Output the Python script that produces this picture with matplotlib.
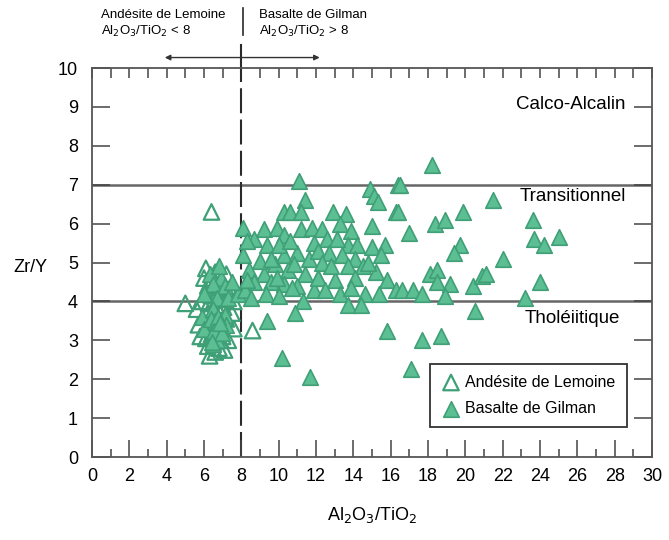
import numpy as np
import matplotlib.pyplot as plt

plt.rcParams['font.family'] = ['Liberation Sans', 'DejaVu Sans']

# Andésite de Lemoine (open triangles)
and_x = [6.4, 5.0, 8.6,
         6.0, 6.6, 6.2, 6.8, 7.4, 6.4, 7.0, 7.6, 5.9, 7.2, 6.1,
         5.6, 6.2, 6.8, 7.5, 5.7, 6.3, 6.9, 7.6, 5.8, 6.4, 7.0,
         6.2, 6.8, 6.3, 6.6, 7.1, 6.1, 7.3,
         6.25, 6.65, 7.05, 6.55,
         6.4, 6.7, 6.3, 6.9, 6.6, 7.2, 6.5, 6.8]
and_y = [6.3, 3.95, 3.25,
         4.6, 4.75, 4.4, 4.35, 4.3, 4.15, 4.05, 4.0, 4.0, 4.7, 4.85,
         3.8, 3.7, 3.75, 3.7, 3.4, 3.45, 3.35, 3.3, 3.1, 3.15, 3.1,
         2.85, 2.8, 2.6, 2.7, 2.75, 3.05, 3.0,
         3.95, 3.9, 3.85, 4.3,
         4.55, 4.25, 3.35, 3.0, 3.7, 3.55, 4.6, 4.45]

# Basalte de Gilman (filled triangles)
bas_x = [6.3, 6.9, 6.5, 7.1, 6.0, 6.7, 7.3, 7.8, 7.5, 6.8,
         5.9, 6.5, 7.1, 6.0, 6.6, 7.2, 6.7, 6.5,
         6.35, 6.75, 6.55, 6.95, 6.45, 6.85,
         11.1, 11.4, 10.3, 10.6, 11.2, 8.1, 9.2, 9.9, 8.7, 10.3, 11.2, 11.8,
         11.9, 9.4, 8.1, 10.3, 11.0, 9.8, 11.6, 8.4, 9.2, 10.5, 11.4, 12.1,
         8.7, 9.6, 10.3, 11.0, 11.9, 8.2, 9.3, 10.0, 11.3, 10.9, 9.4, 10.2,
         11.7, 8.3, 8.3, 8.5,
         14.9, 16.4, 15.1, 15.3, 12.9, 13.6, 16.3, 15.0, 12.3, 13.3, 13.9,
         12.6, 13.7, 14.2, 15.0, 15.7, 12.1, 12.7, 13.4, 14.1, 15.5, 12.3,
         13.7, 14.5, 15.2, 12.1, 13.0, 14.1, 15.8, 12.5, 13.3, 13.9, 14.6,
         15.4, 16.3, 13.7, 14.4, 15.8,
         18.2, 16.5, 16.4, 19.9, 18.4, 18.9, 17.0, 19.7, 19.4, 18.1, 18.5,
         18.5, 19.2, 20.4, 20.9, 16.6, 17.2, 17.7, 18.9, 20.5, 17.7, 18.7,
         17.1,
         21.5, 23.6, 23.7, 24.2, 22.0, 21.1, 24.0, 23.2, 25.0,
         9.0, 10.0, 10.8, 9.6, 10.6, 12.8, 13.1, 14.8, 9.9, 10.7]
bas_y = [4.7, 4.6, 4.45, 4.4, 4.2, 4.1, 4.1, 4.2, 4.5, 4.9,
         3.6, 3.8, 3.65, 3.3, 3.5, 3.4, 3.0, 2.9,
         3.55, 3.6, 3.25, 3.2, 2.95, 3.45,
         7.1, 6.6, 6.3, 6.3, 6.3, 5.9, 5.85, 5.9, 5.6, 5.7, 5.85, 5.9,
         5.5, 5.45, 5.2, 5.2, 5.25, 4.95, 5.1, 4.8, 4.7, 4.8, 4.7, 4.6,
         4.5, 4.5, 4.45, 4.4, 4.3, 4.3, 4.2, 4.15, 4.0, 3.7, 3.5, 2.55,
         2.05, 5.55, 4.55, 4.1,
         6.9, 7.0, 6.7, 6.55, 6.3, 6.25, 6.3, 5.95, 5.85, 6.0, 5.8,
         5.6, 5.45, 5.45, 5.4, 5.45, 5.3, 5.25, 5.2, 5.1, 5.2, 5.0,
         4.9, 4.9, 4.75, 4.6, 4.55, 4.6, 4.55, 4.3, 4.2, 4.35, 4.2,
         4.2, 4.3, 3.9, 3.9, 3.25,
         7.5, 7.0, 6.3, 6.3, 6.0, 6.1, 5.75, 5.45, 5.25, 4.7, 4.8,
         4.5, 4.45, 4.4, 4.65, 4.3, 4.3, 4.2, 4.15, 3.75, 3.0, 3.1,
         2.25,
         6.6, 6.1, 5.6, 5.45, 5.1, 4.7, 4.5, 4.1, 5.65,
         5.05, 5.45, 4.95, 5.1, 5.55, 4.9, 5.6, 5.0, 4.6, 4.35]

fill_c = '#5cbf94'
edge_c = '#3f9f76'

fig = plt.figure(figsize=(6.69, 5.40), dpi=100)
ax = fig.add_axes([0.1375, 0.1537, 0.8371, 0.7203])

ax.axhline(7, color='#666666', lw=1.8, zorder=1)
ax.axhline(4, color='#666666', lw=1.8, zorder=1)
ax.plot([8, 8], [0, 10], color='#2a2a2a', lw=1.5, ls=(0, (12, 3)), zorder=1)

ax.scatter(and_x, and_y, marker='^', s=125, facecolors='none',
           edgecolors=edge_c, linewidths=1.6, zorder=3, label='Andésite de Lemoine')
ax.scatter(bas_x, bas_y, marker='^', s=125, facecolors=fill_c,
           edgecolors=edge_c, linewidths=1.2, zorder=3, label='Basalte de Gilman')

ax.set_xlim(0, 30)
ax.set_ylim(0, 10)
ax.set_xticks(np.arange(0, 31, 2))
ax.set_xticks(np.arange(0, 31, 1), minor=True)
ax.set_yticks(np.arange(0, 11, 1))
ax.tick_params(axis='x', which='major', direction='in', length=12, width=1.1,
               color='#444444', labelsize=13, pad=8, top=False)
ax.tick_params(axis='x', which='minor', direction='in', length=6, width=1.1,
               color='#444444', top=False)
ax.tick_params(axis='y', which='major', direction='in', length=13, width=1.1,
               color='#444444', labelsize=13, pad=10, right=True)
top = ax.secondary_xaxis('top')
top.set_xticks(np.arange(0, 31, 1))
top.tick_params(direction='in', length=7, width=1.1, color='#444444', labeltop=False)
top.spines['top'].set_visible(False)
for s in ax.spines.values():
    s.set_color('#555555')
    s.set_linewidth(1.3)

ax.set_xlabel(r'Al$_2$O$_3$/TiO$_2$', fontsize=13, labelpad=14)
fig.text(0.045, 1 - 267 / 540, 'Zr/Y', fontsize=13, va='center', ha='center')

ax.text(28.6, 9.05, 'Calco-Alcalin', fontsize=13.5, ha='right', va='center')
ax.text(28.6, 6.7, 'Transitionnel', fontsize=13.5, ha='right', va='center')
ax.text(28.3, 3.55, 'Tholéiitique', fontsize=13.5, ha='right', va='center')

# annotations above the plot
ax.plot([8, 8], [10, 10.6], color='#2a2a2a', lw=1.5, clip_on=False)
ax.plot([8.1, 8.1], [10.85, 11.55], color='#2a2a2a', lw=1.2, clip_on=False)
ax.annotate('', xy=(3.9, 10.27), xytext=(12.2, 10.27), annotation_clip=False,
            arrowprops=dict(arrowstyle='<|-|>', color='#333333', lw=1.0,
                            mutation_scale=8, shrinkA=0, shrinkB=0))
ax.text(0.5, 11.36, 'Andésite de Lemoine', fontsize=9.5, va='center', ha='left')
ax.text(0.5, 10.93, r'Al$_2$O$_3$/TiO$_2$ < 8', fontsize=9.5, va='center', ha='left')
ax.text(8.95, 11.36, 'Basalte de Gilman', fontsize=9.5, va='center', ha='left')
ax.text(8.95, 10.93, r'Al$_2$O$_3$/TiO$_2$ > 8', fontsize=9.5, va='center', ha='left')

leg = ax.legend(loc='lower right', bbox_to_anchor=(0.955, 0.077),
                fontsize=11.5, frameon=True, fancybox=False, edgecolor='#333333',
                framealpha=1, borderaxespad=0, handletextpad=0.3, borderpad=0.7,
                labelspacing=0.7, handlelength=1.2)
leg.get_frame().set_linewidth(1.3)
leg.set_zorder(5)

fig.savefig('out.png', dpi=100)
